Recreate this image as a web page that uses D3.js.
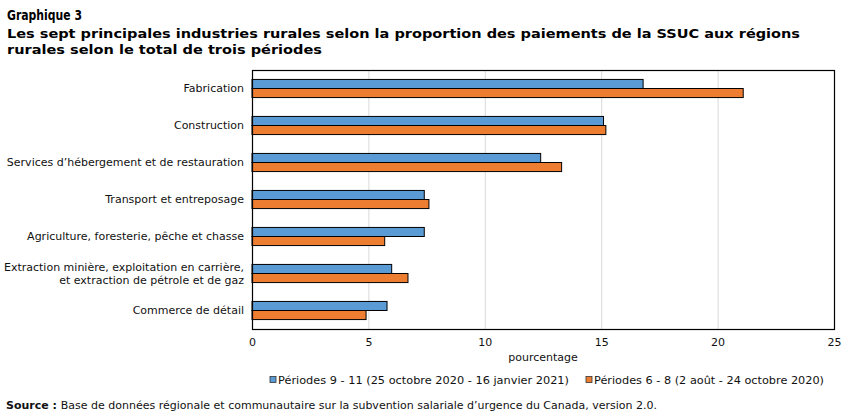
<!DOCTYPE html>
<html>
<head>
<meta charset="utf-8">
<script src="https://cdn.jsdelivr.net/npm/d3@7"></script>
<style>
  body { margin: 0; background: #fff; }
  text { font-family: "DejaVu Sans", Verdana, sans-serif; }
</style>
</head>
<body>
<div id="chart"></div>
<script>
const categories = [
  "Fabrication",
  "Construction",
  "Services d\u2019hébergement et de restauration",
  "Transport et entreposage",
  "Agriculture, foresterie, pêche et chasse",
  "Extraction minière, exploitation en carrière,|et extraction de pétrole et de gaz",
  "Commerce de détail"
];
const seriesNames = [
  "Périodes 9 - 11 (25 octobre 2020 - 16 janvier 2021)",
  "Périodes 6 - 8 (2 août - 24 octobre 2020)"
];
const periods9to11 = [16.8, 15.1, 12.4, 7.4, 7.4, 6.0, 5.8];
const periods6to8 = [21.1, 15.2, 13.3, 7.6, 5.7, 6.7, 4.9];
const xTicks = [0, 5, 10, 15, 20, 25];
const colors = ["#5b9bd5", "#ed7d31"];

const width = 852, height = 416;
const plotLeft = 252, plotRight = 834, plotTop = 70, plotBottom = 329;

const svg = d3.select("#chart").append("svg")
  .attr("width", width)
  .attr("height", height);

// titre
const title = svg.append("g").attr("font-weight", "bold").attr("font-size", 13.5).attr("fill", "#000");
title.append("text").attr("x", 7).attr("y", 20)
  .attr("textLength", 75).attr("lengthAdjust", "spacingAndGlyphs")
  .text("Graphique 3");
title.append("text").attr("x", 7).attr("y", 38).attr("font-size", 13)
  .attr("textLength", 793).attr("lengthAdjust", "spacingAndGlyphs")
  .text("Les sept principales industries rurales selon la proportion des paiements de la SSUC aux régions");
title.append("text").attr("x", 7).attr("y", 54).attr("font-size", 13)
  .attr("textLength", 315).attr("lengthAdjust", "spacingAndGlyphs")
  .text("rurales selon le total de trois périodes");

const x = d3.scaleLinear().domain([0, 25]).range([plotLeft, plotRight]);
const y = d3.scaleBand().domain(d3.range(categories.length)).range([plotTop, plotBottom]).paddingInner(0.51).paddingOuter(0.255);
const ySub = d3.scaleBand().domain([0, 1]).range([0, y.bandwidth()]);

// grille
svg.append("g").selectAll("line")
  .data(xTicks.slice(1, -1))
  .join("line")
  .attr("x1", d => x(d) + 0.5).attr("x2", d => x(d) + 0.5)
  .attr("y1", plotTop).attr("y2", plotBottom)
  .attr("stroke", "#d9d9d9");

// barres
const data = categories.map((c, i) => [periods9to11[i], periods6to8[i]]);
const groups = svg.append("g").selectAll("g")
  .data(data)
  .join("g")
  .attr("transform", (d, i) => `translate(0,${y(i)})`);

groups.selectAll("rect")
  .data(d => d)
  .join("rect")
  .attr("x", x(0))
  .attr("y", (d, j) => ySub(j))
  .attr("width", d => x(d) - x(0))
  .attr("height", ySub.bandwidth())
  .attr("fill", (d, j) => colors[j])
  .attr("stroke", "#000")
  .attr("stroke-width", 1);

// cadre
svg.append("rect")
  .attr("x", plotLeft + 0.5).attr("y", plotTop + 0.5)
  .attr("width", plotRight - plotLeft).attr("height", plotBottom - plotTop)
  .attr("fill", "none").attr("stroke", "#000").attr("stroke-width", 1.2);

// étiquettes des catégories
const labels = svg.append("g").attr("font-size", 11).attr("text-anchor", "end").attr("fill", "#111");
categories.forEach((c, i) => {
  const lines = c.split("|");
  const cy = y(i) + y.bandwidth() / 2;
  lines.forEach((l, k) => {
    labels.append("text")
      .attr("x", 244)
      .attr("y", cy + (k - (lines.length - 1) / 2) * 13)
      .attr("dy", "0.35em")
      .text(l);
  });
});

// axe x
const xAxis = svg.append("g")
  .attr("transform", `translate(0,${plotBottom})`)
  .call(d3.axisBottom(x).tickValues(xTicks).tickSize(0).tickPadding(9));
xAxis.select(".domain").remove();
xAxis.selectAll("text").attr("font-size", 11).attr("fill", "#111")
  .style("font-family", "\"DejaVu Sans\", Verdana, sans-serif");

svg.append("text")
  .attr("x", (plotLeft + plotRight) / 2).attr("y", 361)
  .attr("text-anchor", "middle").attr("font-size", 11).attr("fill", "#111")
  .text("pourcentage");

// légende
const legendX = [270, 586];
const legendLen = [291, 230];
const legend = svg.append("g").attr("font-size", 11).attr("fill", "#111");
seriesNames.forEach((s, i) => {
  legend.append("rect")
    .attr("x", legendX[i]).attr("y", 376.5)
    .attr("width", 6).attr("height", 6)
    .attr("fill", colors[i]).attr("stroke", "#333").attr("stroke-width", 0.8);
  legend.append("text")
    .attr("x", legendX[i] + 8).attr("y", 384)
    .attr("textLength", legendLen[i]).attr("lengthAdjust", "spacingAndGlyphs")
    .text(s);
});

// source
const src = svg.append("text").attr("x", 6).attr("y", 409).attr("font-size", 11).attr("fill", "#111");
src.append("tspan").attr("font-weight", "bold").text("Source : ");
src.append("tspan").text("Base de données régionale et communautaire sur la subvention salariale d\u2019urgence du Canada, version 2.0.");
</script>
</body>
</html>
